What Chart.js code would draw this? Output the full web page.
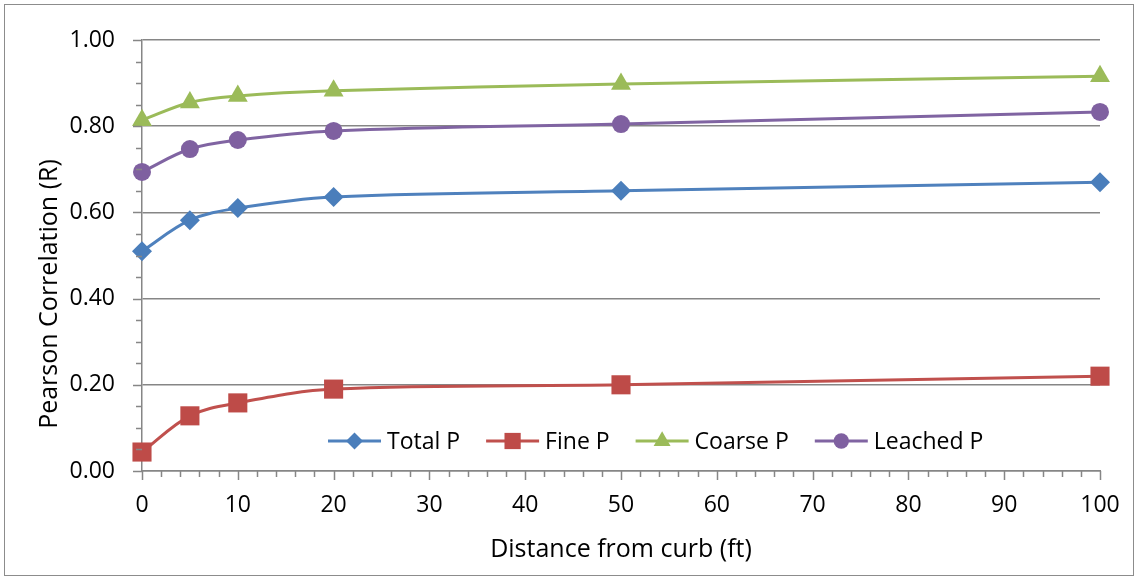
<!DOCTYPE html>
<html>
<head>
<meta charset="utf-8">
<script src="https://cdn.jsdelivr.net/npm/chart.js@4/dist/chart.umd.min.js"></script>
<style>
  html, body { margin: 0; padding: 0; background: #fff; }
  #wrap { width: 1136px; height: 577px; position: relative; }
</style>
</head>
<body>
<div id="wrap"><canvas id="chart"></canvas></div>
<script>
  // distance from curb (ft)
  const distances = [0, 5, 10, 20, 50, 100];

  // Pearson R per phosphorus fraction
  const totalP   = [0.510, 0.582, 0.610, 0.636, 0.650, 0.670];
  const fineP    = [0.044, 0.128, 0.158, 0.190, 0.200, 0.220];
  const coarseP  = [0.814, 0.855, 0.870, 0.882, 0.898, 0.916];
  const leachedP = [0.694, 0.747, 0.768, 0.789, 0.805, 0.833];

  const yTitle = 'Pearson Correlation (R)';
  const xTitle = 'Distance from curb (ft)';

  const FONT = "'Open Sans', sans-serif";
  const GRID = '#868686';

  const pts = vals => vals.map((v, i) => ({ x: distances[i], y: v }));

  function series(label, vals, line, fill, style, radius) {
    return {
      label,
      data: pts(vals),
      borderColor: line,
      backgroundColor: fill,
      pointBackgroundColor: fill,
      pointBorderColor: fill,
      pointBorderWidth: 0,
      pointStyle: style,
      pointRadius: radius,
      borderWidth: 3,
      tension: 0.35,
      clip: false,
      fill: false
    };
  }

  // legend drawn inside the plot, near the bottom
  const insideLegend = {
    id: 'insideLegend',
    afterDatasetsDraw(chart) {
      const ctx = chart.ctx;
      const area = chart.chartArea;
      const y = 441;
      let x = area.left + 186;
      ctx.save();
      ctx.font = '23px ' + FONT;
      ctx.textBaseline = 'middle';
      chart.data.datasets.forEach(ds => {
        ctx.strokeStyle = ds.borderColor;
        ctx.lineWidth = 3;
        ctx.beginPath();
        ctx.moveTo(x, y);
        ctx.lineTo(x + 53, y);
        ctx.stroke();
        ctx.fillStyle = ds.pointBackgroundColor;
        Chart.helpers.drawPoint(ctx, {
          pointStyle: ds.pointStyle,
          radius: ds.pointRadius * 0.85,
          rotation: 0,
          borderWidth: 0
        }, x + 26.5, y);
        ctx.fillStyle = '#000';
        ctx.fillText(ds.label, x + 59, y + 1);
        x += 59 + ctx.measureText(ds.label).width + 26;
      });
      ctx.restore();
    }
  };

  // outer frame, rotated y title, major and minor tick marks
  const frameAndTicks = {
    id: 'frameAndTicks',
    beforeDraw(chart) {
      const ctx = chart.ctx;
      ctx.save();
      ctx.fillStyle = '#fff';
      ctx.fillRect(0, 0, chart.width, chart.height);
      ctx.strokeStyle = '#8c8c8c';
      ctx.lineWidth = 1;
      ctx.strokeRect(4.5, 4.5, chart.width - 7, chart.height - 6);
      ctx.restore();
    },
    afterDraw(chart) {
      const ctx = chart.ctx;
      const xs = chart.scales.x, ys = chart.scales.y;
      const area = chart.chartArea;
      ctx.save();
      ctx.strokeStyle = GRID;
      ctx.lineWidth = 1.5;
      ctx.beginPath();
      for (let v = 0; v <= 1.0001; v += 0.05) {
        const py = Math.round(ys.getPixelForValue(v)) + 0.5;
        const major = Math.abs(v / 0.2 - Math.round(v / 0.2)) < 1e-6;
        ctx.moveTo(area.left - (major ? 9 : 6), py);
        ctx.lineTo(area.left, py);
      }
      for (let v = 0; v <= 100; v += 2) {
        const px = Math.round(xs.getPixelForValue(v)) + 0.5;
        const major = v % 10 === 0;
        ctx.moveTo(px, area.bottom);
        ctx.lineTo(px, area.bottom + (major ? 9 : 6));
      }
      ctx.stroke();

      ctx.translate(50, 294);
      ctx.rotate(-Math.PI / 2);
      ctx.font = '25px ' + FONT;
      ctx.fillStyle = '#000';
      ctx.textAlign = 'center';
      ctx.textBaseline = 'middle';
      ctx.fillText(yTitle, 0, 0);
      ctx.restore();
    }
  };

  new Chart(document.getElementById('chart'), {
    type: 'line',
    data: {
      datasets: [
        series('Total P',   totalP,   '#4F81BD', '#4A7EBB', 'rectRot', 10),
        series('Fine P',    fineP,    '#C0504D', '#BE4B48', 'rect', 13.5),
        series('Coarse P',  coarseP,  '#9BBB59', '#9BBB59', 'triangle', 11.5),
        series('Leached P', leachedP, '#8064A2', '#7F60A0', 'circle', 9)
      ]
    },
    options: {
      responsive: true,
      maintainAspectRatio: false,
      animation: false,
      layout: { padding: { top: 40, right: 36, left: 0, bottom: 0 } },
      plugins: {
        legend: { display: false },
        tooltip: { enabled: false }
      },
      scales: {
        x: {
          type: 'linear',
          min: 0,
          max: 100,
          afterFit(scale) {
            scale.height = 106;
            scale.paddingLeft = 0;
            scale.paddingRight = 0;
          },
          ticks: { stepSize: 10, padding: 21, color: '#000', font: { family: FONT, size: 23 } },
          grid: { display: false, drawTicks: false },
          border: { display: true, color: GRID, width: 1.5 },
          title: {
            display: true,
            text: xTitle,
            color: '#000',
            font: { family: FONT, size: 25 },
            padding: { top: 0, bottom: 12 }
          }
        },
        y: {
          min: 0,
          max: 1,
          afterFit(scale) {
            scale.width = 142;
            scale.paddingTop = 0;
            scale.paddingBottom = 0;
          },
          ticks: {
            stepSize: 0.2,
            padding: 27,
            color: '#000',
            font: { family: FONT, size: 23 },
            callback: v => v.toFixed(2)
          },
          grid: { color: GRID, lineWidth: 1.5, drawTicks: false },
          border: { display: true, color: GRID, width: 1.5 }
        }
      }
    },
    plugins: [frameAndTicks, insideLegend]
  });
</script>
</body>
</html>
